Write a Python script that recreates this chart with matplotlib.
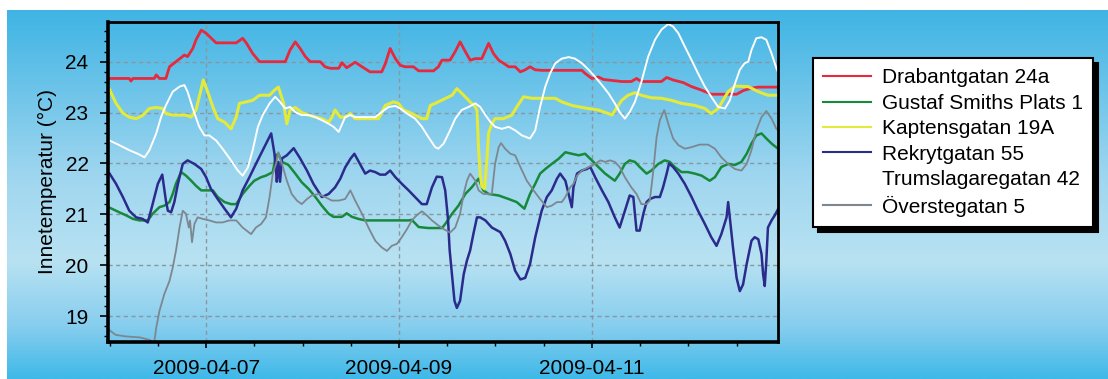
import numpy as np
import matplotlib
matplotlib.use('Agg')
import matplotlib.pyplot as plt
import matplotlib.dates as mdates
from matplotlib.ticker import MultipleLocator
from matplotlib.colors import LinearSegmentedColormap

plt.rcParams['font.family'] = ['Liberation Sans', 'DejaVu Sans']

# (hours since 2009-04-06 00:00, indoor temperature in degC)
drabantgatan = [(0.0, 23.67), (4.9, 23.67), (5.3, 23.62), (5.8, 23.67), (11.1, 23.67), (11.6, 23.74), (12.4, 23.67),
                (14.0, 23.67), (14.9, 23.9), (16.5, 24.0), (18.6, 24.13), (19.4, 24.1), (20.7, 24.26), (21.5, 24.43),
                (22.8, 24.62), (24.0, 24.56), (25.7, 24.43), (26.5, 24.37), (31.5, 24.37), (33.1, 24.46), (34.0, 24.37),
                (35.6, 24.16), (37.3, 24.0), (43.7, 24.0), (44.9, 24.23), (46.2, 24.39), (47.4, 24.26), (48.7, 24.1),
                (49.9, 24.0), (52.4, 24.0), (53.6, 23.9), (54.9, 23.87), (57.0, 23.87), (57.8, 23.98), (59.0, 23.88),
                (61.1, 23.99), (62.8, 23.9), (64.8, 23.8), (67.7, 23.8), (68.6, 23.96), (69.8, 24.26), (71.1, 24.06),
                (72.3, 23.93), (73.5, 23.9), (75.6, 23.9), (76.9, 23.82), (80.6, 23.82), (81.8, 23.9), (82.7, 24.03),
                (84.7, 24.03), (86.0, 24.2), (87.2, 24.39), (88.5, 24.2), (89.7, 24.03), (91.0, 24.06), (92.6, 24.06),
                (94.3, 24.36), (95.5, 24.16), (96.8, 24.03), (98.0, 23.97), (99.3, 23.9), (100.9, 23.9), (102.2, 23.8),
                (103.4, 23.84), (104.6, 23.9), (105.9, 23.84), (107.5, 23.83), (117.5, 23.83), (118.3, 23.77),
                (120.0, 23.67), (121.6, 23.7), (122.9, 23.65), (127.4, 23.61), (129.8, 23.61), (131.1, 23.67),
                (132.3, 23.61), (137.3, 23.61), (138.6, 23.69), (140.2, 23.64), (142.7, 23.59), (144.8, 23.51),
                (147.3, 23.44), (149.7, 23.36), (153.9, 23.36), (156.0, 23.36), (157.6, 23.43), (159.7, 23.48),
                (161.4, 23.5), (166.3, 23.5)]

gustaf_smiths = [(0.0, 21.13), (2.4, 21.04), (4.1, 20.98), (5.8, 20.91), (7.4, 20.88), (9.5, 20.88), (10.7, 21.01),
                 (12.4, 21.14), (13.6, 21.17), (14.9, 21.24), (15.7, 21.4), (16.5, 21.6), (17.8, 21.83), (19.0, 21.76),
                 (20.3, 21.66), (21.5, 21.56), (22.8, 21.47), (25.7, 21.47), (26.9, 21.34), (28.6, 21.24), (30.2, 21.2),
                 (31.5, 21.2), (33.1, 21.4), (34.8, 21.56), (36.0, 21.66), (37.7, 21.73), (38.9, 21.76), (40.6, 21.83),
                 (41.4, 22.16), (42.0, 22.19), (42.9, 22.03), (44.5, 21.97), (46.2, 21.8), (47.8, 21.63), (49.5, 21.5),
                 (51.2, 21.34), (52.8, 21.17), (54.5, 21.01), (55.7, 20.95), (57.8, 20.95), (59.0, 21.02), (60.3, 20.95),
                 (61.9, 20.91), (63.6, 20.88), (74.4, 20.88), (75.2, 20.89), (76.9, 20.75), (79.3, 20.73), (82.7, 20.73),
                 (83.5, 20.81), (85.2, 21.01), (86.8, 21.17), (88.5, 21.4), (90.1, 21.53), (91.8, 21.7), (93.0, 21.47),
                 (94.3, 21.4), (96.8, 21.37), (99.3, 21.3), (101.3, 21.24), (103.2, 21.11), (104.6, 21.4), (105.9, 21.6),
                 (107.1, 21.8), (108.4, 21.89), (110.0, 21.99), (111.7, 22.09), (113.4, 22.22), (115.0, 22.19),
                 (116.7, 22.16), (118.3, 22.19), (120.0, 22.06), (121.6, 21.93), (123.3, 21.8), (125.0, 21.7),
                 (125.7, 21.66), (126.9, 21.8), (128.2, 21.99), (129.4, 22.06), (130.7, 22.03), (131.9, 21.93),
                 (133.6, 21.8), (134.8, 21.86), (136.5, 21.99), (138.1, 22.06), (139.4, 22.03), (140.6, 21.93),
                 (142.3, 21.83), (143.9, 21.83), (145.6, 21.8), (147.3, 21.76), (149.3, 21.66), (150.6, 21.73),
                 (152.2, 21.93), (153.9, 21.99), (155.6, 21.97), (157.2, 22.03), (158.5, 22.19), (159.7, 22.39),
                 (160.9, 22.55), (162.2, 22.59), (163.4, 22.49), (164.7, 22.39), (166.3, 22.29)]

kaptensgatan = [(0.0, 23.45), (1.6, 23.18), (3.3, 22.99), (4.9, 22.91), (6.6, 22.88), (8.2, 22.94), (9.9, 23.08),
                (11.6, 23.1), (13.2, 23.08), (14.0, 22.98), (15.7, 22.95), (19.0, 22.95), (20.3, 22.91), (21.5, 23.05),
                (22.8, 23.47), (23.3, 23.64), (24.4, 23.41), (25.7, 23.11), (26.9, 22.88), (28.6, 22.81), (30.2, 22.68),
                (31.5, 22.91), (32.3, 23.18), (34.0, 23.21), (35.6, 23.24), (37.3, 23.34), (39.8, 23.34), (41.0, 23.44),
                (42.0, 23.5), (43.3, 23.18), (44.1, 22.78), (44.9, 23.05), (46.2, 23.1), (47.8, 23.0), (49.5, 22.95),
                (51.2, 22.91), (52.8, 22.88), (54.5, 22.81), (55.3, 22.91), (56.1, 23.05), (57.4, 22.91), (58.6, 22.91),
                (59.9, 22.98), (61.1, 22.88), (66.9, 22.88), (68.6, 23.14), (70.6, 23.21), (71.9, 23.18), (73.1, 23.05),
                (74.4, 23.01), (76.0, 22.95), (77.7, 22.88), (78.9, 22.88), (79.8, 23.14), (81.0, 23.18), (85.2, 23.34),
                (86.4, 23.47), (88.1, 23.34), (89.7, 23.21), (91.0, 23.11), (91.4, 23.05), (91.8, 22.3), (92.2, 21.8),
                (92.6, 21.55), (93.3, 21.5), (93.9, 22.1), (94.3, 22.6), (95.1, 22.78), (95.9, 22.88), (98.0, 22.88),
                (100.1, 22.95), (101.3, 23.11), (103.0, 23.31), (105.1, 23.28), (110.9, 23.28), (112.5, 23.21),
                (115.0, 23.14), (118.3, 23.09), (121.6, 23.05), (124.1, 22.98), (125.0, 22.95), (127.4, 23.24),
                (129.0, 23.34), (130.7, 23.39), (132.3, 23.34), (134.8, 23.29), (137.3, 23.28), (139.8, 23.24),
                (142.3, 23.18), (145.6, 23.14), (148.1, 23.08), (149.7, 22.98), (151.4, 23.08), (153.9, 23.41),
                (155.6, 23.52), (158.9, 23.51), (161.4, 23.41), (163.8, 23.34), (166.3, 23.34)]

rekrytgatan = [(0.0, 21.8), (1.6, 21.6), (3.3, 21.34), (4.9, 21.07), (6.6, 20.94), (8.2, 20.91), (9.5, 20.84),
               (10.7, 21.2), (12.0, 21.6), (13.1, 21.78), (14.0, 21.27), (14.5, 21.07), (15.3, 21.04), (16.1, 21.24),
               (17.0, 21.6), (18.2, 21.99), (19.4, 22.06), (21.1, 21.99), (22.8, 21.89), (24.0, 21.73), (25.2, 21.5),
               (26.9, 21.3), (28.6, 21.11), (30.2, 20.94), (31.5, 21.11), (33.1, 21.47), (34.8, 21.73), (36.4, 21.99),
               (38.1, 22.26), (39.3, 22.45), (40.2, 22.59), (41.0, 22.2), (41.4, 21.87), (41.6, 21.64), (42.0, 22.03),
               (42.4, 21.64), (42.9, 22.1), (44.1, 22.16), (45.8, 22.3), (47.4, 22.1), (49.1, 21.86), (50.7, 21.6),
               (52.8, 21.34), (54.5, 21.4), (56.1, 21.53), (57.4, 21.7), (58.6, 21.92), (59.9, 22.09), (60.9, 22.19),
               (62.3, 21.99), (63.6, 21.8), (64.8, 21.86), (66.1, 21.83), (67.3, 21.78), (68.6, 21.78), (69.8, 21.86),
               (71.1, 21.73), (72.7, 21.6), (74.4, 21.47), (76.0, 21.34), (77.7, 21.2), (78.9, 21.2), (80.2, 21.53),
               (81.4, 21.74), (82.7, 21.73), (83.5, 21.47), (84.2, 20.9), (84.6, 20.3), (85.2, 19.8), (85.8, 19.3),
               (86.4, 19.16), (87.2, 19.3), (88.1, 19.82), (88.9, 20.09), (89.7, 20.29), (90.5, 20.61), (91.4, 20.94),
               (92.2, 20.94), (93.5, 20.88), (95.1, 20.74), (97.2, 20.65), (98.4, 20.48), (99.7, 20.22), (100.9, 19.89),
               (102.2, 19.72), (103.4, 19.75), (104.6, 20.02), (105.9, 20.55), (107.5, 21.07), (108.8, 21.34),
               (110.0, 21.47), (111.3, 21.7), (112.1, 21.8), (113.4, 21.66), (114.2, 21.4), (115.0, 21.14),
               (115.4, 21.53), (116.3, 21.8), (117.5, 21.86), (118.7, 21.89), (119.6, 21.93), (120.8, 21.73),
               (122.5, 21.47), (124.1, 21.24), (125.7, 20.94), (126.9, 20.74), (128.2, 21.07), (129.4, 21.37),
               (130.3, 21.34), (131.1, 20.68), (131.9, 20.68), (132.8, 21.01), (133.6, 21.24), (134.4, 21.3),
               (135.7, 21.34), (136.9, 21.34), (137.7, 21.53), (138.6, 21.8), (139.2, 22.0), (140.2, 21.93),
               (141.5, 21.8), (143.1, 21.6), (144.8, 21.34), (146.4, 21.07), (148.1, 20.81), (149.7, 20.55),
               (151.0, 20.38), (152.2, 20.61), (153.5, 20.94), (153.9, 21.24), (154.3, 20.94), (155.1, 20.35),
               (156.0, 19.75), (156.8, 19.49), (157.6, 19.62), (158.5, 20.02), (159.7, 20.48), (160.5, 20.55),
               (161.4, 20.51), (162.2, 20.22), (162.6, 19.82), (163.0, 19.59), (163.4, 20.09), (163.8, 20.74),
               (164.7, 20.88), (165.5, 20.98), (166.3, 21.1)]

trumslagaregatan = [(0.0, 22.45), (2.4, 22.36), (4.9, 22.26), (7.0, 22.19), (8.7, 22.12), (9.9, 22.26), (11.6, 22.59),
                    (12.8, 22.91), (14.0, 23.14), (15.7, 23.41), (17.4, 23.51), (18.6, 23.54), (19.4, 23.41),
                    (20.7, 23.08), (22.3, 22.72), (23.6, 22.55), (24.8, 22.55), (26.5, 22.45), (28.1, 22.29),
                    (30.2, 22.06), (31.9, 21.86), (33.1, 21.76), (34.4, 21.92), (35.6, 22.26), (36.9, 22.72),
                    (38.1, 22.95), (39.8, 23.18), (41.2, 23.31), (42.4, 23.21), (43.7, 23.08), (44.9, 23.11),
                    (46.2, 23.01), (47.8, 22.95), (49.5, 22.95), (51.2, 22.91), (52.8, 22.85), (54.5, 22.78),
                    (55.7, 22.72), (57.0, 22.62), (58.6, 22.91), (59.9, 22.95), (61.1, 22.91), (66.1, 22.91),
                    (67.7, 23.01), (69.4, 23.11), (71.1, 23.13), (72.3, 23.08), (74.0, 22.98), (76.0, 22.88),
                    (77.7, 22.72), (79.3, 22.52), (81.0, 22.32), (81.8, 22.29), (83.1, 22.39), (84.7, 22.65),
                    (86.0, 22.88), (87.6, 23.05), (89.3, 23.11), (91.0, 23.18), (92.2, 23.11), (93.5, 22.95),
                    (94.7, 22.82), (95.9, 22.72), (97.6, 22.68), (99.3, 22.72), (100.9, 22.65), (102.6, 22.55),
                    (104.6, 22.49), (105.9, 22.65), (107.1, 23.11), (108.4, 23.51), (109.6, 23.77), (110.9, 23.97),
                    (112.5, 24.06), (114.2, 24.09), (115.8, 24.06), (117.5, 23.97), (119.2, 23.84), (120.8, 23.7),
                    (122.5, 23.54), (124.1, 23.38), (125.7, 23.18), (126.9, 23.01), (128.2, 22.88), (129.4, 23.01),
                    (130.7, 23.21), (132.3, 23.6), (134.0, 24.1), (135.7, 24.43), (137.3, 24.63), (139.0, 24.74),
                    (140.2, 24.69), (141.5, 24.56), (143.1, 24.3), (144.8, 24.03), (146.4, 23.77), (148.1, 23.51),
                    (149.7, 23.31), (151.4, 23.11), (153.1, 23.08), (154.3, 23.24), (155.6, 23.57), (156.8, 23.84),
                    (158.0, 23.97), (158.9, 24.0), (159.7, 24.23), (160.9, 24.46), (162.2, 24.48), (163.4, 24.43),
                    (164.7, 24.16), (165.9, 23.87), (166.3, 23.8)]

overstegatan = [(0.0, 18.72), (1.5, 18.63), (4.0, 18.6), (7.5, 18.58), (10.0, 18.53), (11.1, 18.48), (11.6, 18.77),
                (12.4, 19.1), (13.6, 19.43), (14.9, 19.69), (15.7, 19.95), (16.5, 20.28), (17.4, 20.74), (18.2, 21.07),
                (19.0, 21.01), (19.7, 20.74), (20.0, 20.88), (20.5, 20.45), (21.1, 20.81), (21.9, 20.94), (23.2, 20.91),
                (24.8, 20.88), (26.5, 20.84), (28.1, 20.84), (29.8, 20.88), (31.5, 20.88), (33.1, 20.74), (35.2, 20.61),
                (36.4, 20.74), (37.7, 20.81), (38.9, 20.94), (39.8, 21.34), (40.6, 21.8), (41.4, 21.99), (42.0, 22.22),
                (42.9, 21.99), (44.1, 21.66), (45.3, 21.4), (46.6, 21.27), (47.8, 21.2), (49.1, 21.3), (50.3, 21.37),
                (52.0, 21.4), (53.6, 21.34), (55.3, 21.27), (57.0, 21.27), (58.6, 21.3), (59.9, 21.47), (61.1, 21.27),
                (62.8, 21.01), (64.4, 20.74), (66.1, 20.48), (67.7, 20.35), (69.0, 20.28), (70.2, 20.38), (71.5, 20.42),
                (72.7, 20.55), (74.0, 20.71), (75.2, 20.88), (76.4, 20.98), (77.7, 21.06), (78.9, 20.98), (80.2, 20.88),
                (81.8, 20.78), (83.1, 20.71), (84.7, 20.64), (86.0, 20.74), (87.2, 21.01), (88.1, 21.4), (88.9, 21.66),
                (89.7, 21.8), (91.0, 21.66), (91.8, 21.47), (93.0, 21.4), (95.1, 21.4), (95.9, 21.99), (96.8, 22.32),
                (97.4, 22.4), (98.4, 22.29), (99.7, 22.19), (100.9, 22.16), (102.2, 21.93), (103.8, 21.66),
                (105.5, 21.47), (107.1, 21.3), (108.8, 21.14), (110.0, 21.17), (111.3, 21.24), (112.5, 21.24),
                (113.4, 21.34), (114.6, 21.53), (115.4, 21.6), (116.3, 21.76), (117.5, 21.86), (119.2, 21.93),
                (120.8, 21.99), (122.1, 22.06), (123.3, 22.03), (124.5, 22.06), (125.7, 22.03), (126.9, 21.93),
                (128.2, 21.73), (129.8, 21.53), (131.1, 21.4), (132.3, 21.2), (133.6, 21.2), (134.4, 21.27),
                (135.2, 21.8), (136.1, 22.52), (136.9, 22.85), (138.0, 23.05), (139.0, 22.78), (140.2, 22.49),
                (141.5, 22.36), (143.1, 22.29), (144.8, 22.32), (146.8, 22.37), (148.9, 22.37), (150.6, 22.29),
                (152.2, 22.12), (153.9, 21.99), (155.6, 21.89), (157.2, 21.86), (158.5, 21.99), (159.7, 22.26),
                (160.9, 22.65), (162.2, 22.91), (163.4, 23.03), (164.7, 22.88), (165.9, 22.68), (166.3, 22.65)]

series_names = ['Drabantgatan 24a', 'Gustaf Smiths Plats 1', 'Kaptensgatan 19A',
                'Rekrytgatan 55', 'Trumslagaregatan 42', 'Överstegatan 5']
series_data = [drabantgatan, gustaf_smiths, kaptensgatan, rekrytgatan, trumslagaregatan, overstegatan]
series_colors = ['#e8283c', '#16893a', '#e4ea3a', '#2b2b8c', '#ffffff', '#7d8790']
series_widths = [2.0, 1.8, 2.2, 1.8, 1.4, 1.3]

start = np.datetime64('2009-04-06T00:00')


def to_time(hours):
    return start + (np.asarray(hours) * 60).round().astype(int).astype('timedelta64[m]')


fig = plt.figure(figsize=(11.08, 3.79), dpi=100)

# blue gradient background
bg = fig.add_axes([7 / 1108, 0, 1 - 7 / 1108, 369 / 379], zorder=-10)
grad_cmap = LinearSegmentedColormap.from_list(
    'bg', [(0.0, '#3fb4e4'), (0.45, '#9fd6ef'), (0.68, '#b8e2f2'), (0.86, '#86cdee'), (1.0, '#3fb9e9')])
bg.imshow(np.linspace(0, 1, 256).reshape(-1, 1), aspect='auto', cmap=grad_cmap, extent=[0, 1, 0, 1])
bg.axis('off')

ax = fig.add_axes([108 / 1108, 1 - 342 / 379, 670 / 1108, 320 / 379])
ax.set_facecolor('none')

for name, pts, col, lw in zip(series_names, series_data, series_colors, series_widths):
    hrs, temps = zip(*pts)
    ax.plot(to_time(hrs), temps, color=col, linewidth=lw, label=name)

ax.set_xlim(to_time(-0.4), to_time(166.3))
ax.set_ylim(18.49, 24.78)

ax.yaxis.set_major_locator(MultipleLocator(1))
ax.yaxis.set_minor_locator(MultipleLocator(0.2))
ax.xaxis.set_major_locator(mdates.DayLocator(bymonthday=[7, 9, 11]))
ax.xaxis.set_minor_locator(mdates.HourLocator(byhour=[0, 12]))
ax.xaxis.set_major_formatter(mdates.DateFormatter('%Y-%m-%d'))

ax.tick_params(axis='both', which='major', labelsize=15, direction='out', width=1.2, colors='black')
ax.tick_params(axis='y', which='major', length=6, pad=8)
ax.tick_params(axis='y', which='minor', length=3, width=1)
ax.tick_params(axis='x', which='major', length=4, pad=8)
ax.tick_params(axis='x', which='minor', length=3, width=1)

ax.grid(True, which='major', linestyle=(0, (3, 2.5)), color='#8a96a0', linewidth=1)

for side in ['top', 'right']:
    ax.spines[side].set_linewidth(2)
for side in ['left', 'bottom']:
    ax.spines[side].set_linewidth(2.6)

ax.set_ylabel('Innetemperatur (°C)', fontsize=15, labelpad=6)

leg = ax.legend(loc='upper left', bbox_to_anchor=(813 / 1108, 1 - 58 / 379), bbox_transform=fig.transFigure,
                fontsize=15, frameon=True, fancybox=False, framealpha=1, facecolor='white', edgecolor='black',
                borderaxespad=0, borderpad=0.5, labelspacing=0.31, handlelength=2.3, handletextpad=0.5,
                shadow={'ox': 3.6, 'oy': -3.6, 'facecolor': 'black', 'edgecolor': 'black', 'alpha': 1})
leg.get_frame().set_linewidth(1.5)
for line in leg.get_lines():
    line.set_linewidth(1.5)

fig.savefig('out.png', dpi=100)
